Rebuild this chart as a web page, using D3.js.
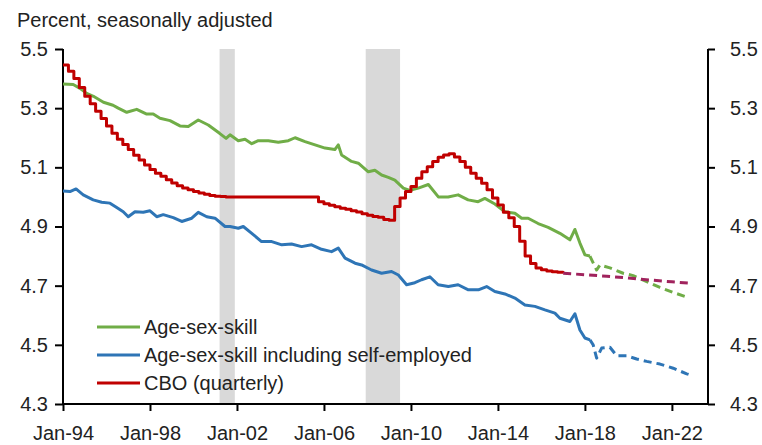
<!DOCTYPE html>
<html>
<head>
<meta charset="utf-8">
<script src="https://cdn.jsdelivr.net/npm/d3@7"></script>
<style>
  body { margin: 0; background: white; }
  text { font-family: "Liberation Sans", Arial, sans-serif; font-size: 20px; fill: #222; }
</style>
</head>
<body>
<svg width="762" height="445" id="chart"></svg>
<script>
// ---- data (decimal years, percent) ----
var tickYears = [1994, 1998, 2002, 2006, 2010, 2014, 2018, 2022];
var yTicks = [4.3, 4.5, 4.7, 4.9, 5.1, 5.3, 5.5];

var recessions = [[2001.2, 2001.9], [2007.92, 2009.5]];

var greenYears = [1994.0, 1994.47, 1994.78, 1995.09, 1995.4, 1995.86, 1996.3, 1996.54, 1996.93, 1997.39,
  1997.85, 1998.15, 1998.46, 1998.92, 1999.38, 1999.76, 2000.22, 2000.68, 2001.2, 2001.5,
  2001.68, 2002.06, 2002.37, 2002.68, 2002.98, 2003.44, 2003.9, 2004.36, 2004.67, 2005.13,
  2005.59, 2006.05, 2006.5, 2006.66, 2006.81, 2007.27, 2007.58, 2008.04, 2008.34, 2008.65,
  2008.96, 2009.26, 2009.65, 2009.95, 2010.34, 2010.8, 2011.26, 2011.71, 2012.17, 2012.63,
  2013.09, 2013.4, 2013.86, 2014.32, 2014.78, 2015.09, 2015.39, 2015.85, 2016.31, 2016.85,
  2017.31, 2017.54, 2017.77, 2018.0, 2018.23];
var greenVals = [5.382, 5.380, 5.367, 5.350, 5.340, 5.320, 5.310, 5.300, 5.286, 5.296,
  5.280, 5.280, 5.266, 5.258, 5.240, 5.238, 5.260, 5.243, 5.215, 5.198,
  5.210, 5.190, 5.195, 5.180, 5.190, 5.190, 5.185, 5.190, 5.200, 5.187,
  5.176, 5.165, 5.160, 5.176, 5.142, 5.120, 5.114, 5.085, 5.090, 5.074,
  5.066, 5.057, 5.030, 5.022, 5.030, 5.042, 5.000, 5.000, 5.007, 4.990,
  4.984, 4.995, 4.976, 4.950, 4.945, 4.928, 4.928, 4.910, 4.897, 4.877,
  4.855, 4.890, 4.844, 4.804, 4.800];
var greenProjYears = [2018.23, 2018.54, 2018.69, 2019.15, 2019.76, 2020.22, 2020.84, 2021.45, 2022.06, 2022.75];
var greenProjVals = [4.800, 4.753, 4.770, 4.760, 4.742, 4.734, 4.714, 4.694, 4.677, 4.660];

var blueYears = [1994.0, 1994.32, 1994.6, 1994.93, 1995.39, 1995.78, 1996.16, 1996.47, 1996.77, 1997.0,
  1997.31, 1997.69, 1998.0, 1998.31, 1998.61, 1999.07, 1999.46, 1999.92, 2000.22, 2000.61,
  2000.99, 2001.45, 2001.68, 2002.06, 2002.29, 2002.68, 2003.13, 2003.6, 2004.06, 2004.51,
  2004.97, 2005.43, 2005.89, 2006.35, 2006.66, 2006.97, 2007.43, 2007.73, 2008.19, 2008.65,
  2009.11, 2009.42, 2009.8, 2010.18, 2010.49, 2010.87, 2011.25, 2011.72, 2012.17, 2012.64,
  2013.1, 2013.48, 2013.86, 2014.32, 2014.78, 2015.24, 2015.7, 2016.16, 2016.62, 2016.85,
  2017.31, 2017.54, 2017.77, 2018.0, 2018.23];
var blueVals = [5.020, 5.018, 5.027, 5.007, 4.990, 4.982, 4.979, 4.964, 4.950, 4.933,
  4.950, 4.948, 4.953, 4.933, 4.940, 4.930, 4.917, 4.928, 4.948, 4.933,
  4.928, 4.900, 4.900, 4.894, 4.900, 4.877, 4.849, 4.849, 4.838, 4.841,
  4.832, 4.838, 4.823, 4.815, 4.827, 4.793, 4.776, 4.770, 4.753, 4.742,
  4.748, 4.736, 4.703, 4.710, 4.720, 4.730, 4.703, 4.697, 4.703, 4.686,
  4.686, 4.697, 4.680, 4.672, 4.658, 4.635, 4.630, 4.618, 4.607, 4.590,
  4.579, 4.605, 4.550, 4.523, 4.517];
var blueProjYears = [2018.23, 2018.38, 2018.54, 2018.77, 2019.15, 2019.46, 2019.92, 2020.38, 2020.84, 2021.45, 2022.06, 2022.68, 2022.98];
var blueProjVals = [4.517, 4.500, 4.455, 4.489, 4.492, 4.463, 4.463, 4.452, 4.444, 4.435, 4.421, 4.402, 4.395];

// CBO, quarterly from 1994Q1 to 2017Q1
var cboStart = 1994;
var cboVals = [5.446, 5.425, 5.400, 5.370, 5.340, 5.315, 5.290, 5.265, 5.240, 5.215,
  5.195, 5.177, 5.160, 5.141, 5.125, 5.108, 5.093, 5.080, 5.070, 5.058,
  5.047, 5.038, 5.030, 5.024, 5.018, 5.013, 5.009, 5.005, 5.002, 5.001,
  5.000, 5.000, 5.000, 5.000, 5.000, 5.000, 5.000, 5.000, 5.000, 5.000,
  5.000, 5.000, 5.000, 5.000, 5.000, 5.000, 5.000, 4.984, 4.977, 4.972,
  4.967, 4.962, 4.958, 4.953, 4.949, 4.943, 4.938, 4.934, 4.931, 4.924,
  4.921, 4.968, 4.996, 5.018, 5.035, 5.063, 5.085, 5.102, 5.120, 5.134,
  5.142, 5.146, 5.135, 5.120, 5.100, 5.080, 5.063, 5.046, 5.024, 4.996,
  4.973, 4.948, 4.930, 4.900, 4.850, 4.800, 4.775, 4.760, 4.754, 4.750,
  4.747, 4.745, 4.742];
var cboProjYears = [2017.0, 2018.0, 2019.0, 2020.0, 2021.0, 2022.0, 2022.75];
var cboProjVals = [4.742, 4.737, 4.732, 4.726, 4.719, 4.713, 4.709];

var legendNames = ["Age-sex-skill", "Age-sex-skill including self-employed", "CBO (quarterly)"];
var legendColors = ["#70ad47", "#2e75b6", "#c00000"];

// ---- layout ----
var svg = d3.select("#chart");
var mLeft = 63, mRight = 708, mTop = 49, mBottom = 404;

var x = d3.scaleLinear().domain([1994, 2023.66]).range([mLeft, mRight]);
var y = d3.scaleLinear().domain([4.3, 5.5]).range([mBottom, mTop]);

function pairs(xs, vs) { return xs.map(function(d, i) { return [d, vs[i]]; }); }

// recession shading
svg.selectAll(".rec")
  .data(recessions)
  .enter().append("rect")
  .attr("class", "rec")
  .attr("x", function(d) { return x(d[0]); })
  .attr("y", mTop)
  .attr("width", function(d) { return x(d[1]) - x(d[0]); })
  .attr("height", mBottom - mTop)
  .attr("fill", "#d9d9d9");

// axes
var yLeft = svg.append("g")
  .attr("transform", "translate(" + mLeft + ",0)")
  .call(d3.axisLeft(y).tickValues(yTicks).tickSize(8).tickPadding(7).tickFormat(d3.format(".1f")));
var yRight = svg.append("g")
  .attr("transform", "translate(" + mRight + ",0)")
  .call(d3.axisRight(y).tickValues(yTicks).tickSize(7).tickPadding(15).tickFormat(d3.format(".1f")));
var xAxis = svg.append("g")
  .attr("transform", "translate(0," + mBottom + ")")
  .call(d3.axisBottom(x).tickValues(tickYears).tickSize(7).tickPadding(8)
    .tickFormat(function(d) { return "Jan-" + String(d).slice(2); }));

[yLeft, yRight, xAxis].forEach(function(g) {
  g.select(".domain").attr("stroke", "black").attr("stroke-width", 2);
  g.selectAll(".tick line").attr("stroke", "black").attr("stroke-width", 2);
  g.selectAll(".tick text").attr("font-size", null).attr("font-family", null).attr("fill", "#222");
});
xAxis.selectAll(".tick text").attr("dy", "1.05em");
// domain paths without the outer ticks
xAxis.select(".domain").attr("d", "M" + mLeft + ",0H" + mRight);
yLeft.select(".domain").attr("d", "M0," + mBottom + "V" + mTop);
yRight.select(".domain").attr("d", "M0," + mBottom + "V" + mTop);

// lines
var line = d3.line().x(function(d) { return x(d[0]); }).y(function(d) { return y(d[1]); });
var stepLine = d3.line().curve(d3.curveStepAfter)
  .x(function(d) { return x(d[0]); }).y(function(d) { return y(d[1]); });

function draw(data, gen, color, dash) {
  svg.append("path")
    .datum(data)
    .attr("d", gen)
    .attr("fill", "none")
    .attr("stroke", color)
    .attr("stroke-width", 3)
    .attr("stroke-linejoin", "round")
    .attr("stroke-dasharray", dash || null);
}

var cboData = cboVals.map(function(v, i) { return [cboStart + i * 0.25, v]; });

draw(pairs(greenYears, greenVals), line, "#70ad47");
draw(pairs(blueYears, blueVals), line, "#2e75b6");
draw(cboData, stepLine, "#c00000");
draw(pairs(greenProjYears, greenProjVals), line, "#70ad47", "8,5");
draw(pairs(blueProjYears, blueProjVals), line, "#2e75b6", "8,5");
draw(pairs(cboProjYears, cboProjVals), line, "#a0235d", "8,5");

// legend
var legend = svg.append("g").attr("transform", "translate(97,327)");
legendNames.forEach(function(name, i) {
  var row = legend.append("g").attr("transform", "translate(0," + (i * 28) + ")");
  row.append("line")
    .attr("x1", 0).attr("x2", 43)
    .attr("stroke", legendColors[i])
    .attr("stroke-width", 3);
  row.append("text")
    .attr("x", 47)
    .attr("y", 7)
    .text(name);
});

// title
svg.append("text")
  .attr("x", 17)
  .attr("y", 27)
  .text("Percent, seasonally adjusted");
</script>
</body>
</html>
